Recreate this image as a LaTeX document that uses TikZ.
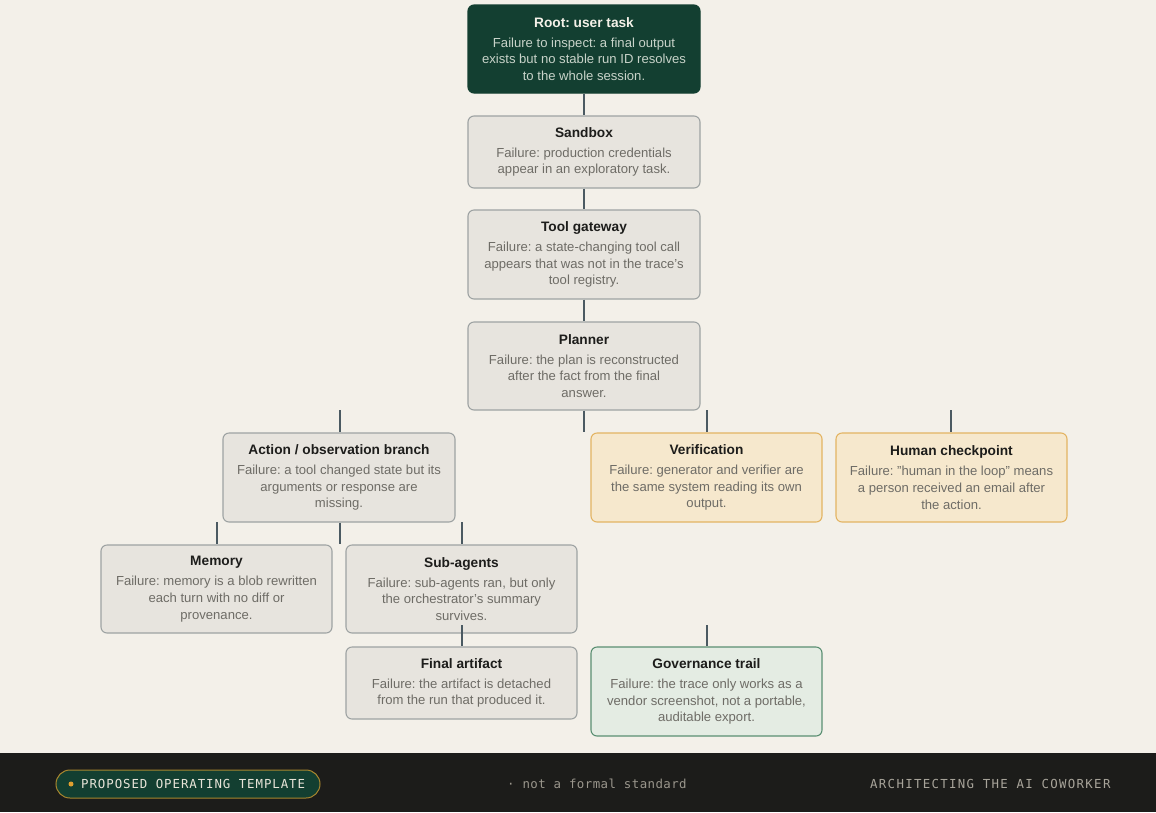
\documentclass[tikz,border=0pt]{standalone}
\usepackage{fontspec}
\setmainfont{Liberation Sans}
\newfontfamily\pillfont[LetterSpace=7.5]{DejaVu Sans Mono}
\newfontfamily\midfont[LetterSpace=3.5]{DejaVu Sans Mono}
\newfontfamily\rightfont[LetterSpace=10.5]{DejaVu Sans Mono}
\definecolor{bgc}{HTML}{F3F0E9}
\definecolor{grayfill}{HTML}{E7E4DE}
\definecolor{grayline}{HTML}{9EA3A3}
\definecolor{orfill}{HTML}{F6E8CD}
\definecolor{orline}{HTML}{E3B463}
\definecolor{grfill}{HTML}{E4ECE3}
\definecolor{grline}{HTML}{5A8F72}
\definecolor{rootfill}{HTML}{133F31}
\definecolor{roottitle}{HTML}{F4F1E8}
\definecolor{rootbody}{HTML}{C8D3C9}
\definecolor{titlecol}{HTML}{1D1D1B}
\definecolor{bodycol}{HTML}{6E6C66}
\definecolor{conn}{HTML}{4B5A62}
\definecolor{footc}{HTML}{1C1C1A}
\definecolor{pillline}{HTML}{A8862E}
\definecolor{dotc}{HTML}{E0A030}
\definecolor{pilltext}{HTML}{E8E4D8}
\definecolor{midtext}{HTML}{9A968C}
\definecolor{righttext}{HTML}{A8A49A}
\newcommand{\ttl}[1]{{\fontsize{13.7}{16.7}\selectfont\bfseries\color{titlecol}#1}}
\newcommand{\rttl}[1]{{\fontsize{13.7}{16.7}\selectfont\bfseries\color{roottitle}#1}}
\frenchspacing
\begin{document}
\begin{tikzpicture}[x=1pt,y=-1pt,
  card/.style={rounded corners=6pt, line width=1.1pt, align=center, inner sep=0pt,
    minimum width=232pt, font=\fontsize{13.1}{16.7}\selectfont\frenchspacing, text=bodycol,
    fill=grayfill, draw=grayline},
  orcard/.style={card, fill=orfill, draw=orline},
  grcard/.style={card, fill=grfill, draw=grline},
  rootcard/.style={card, fill=rootfill, draw=rootfill, text=rootbody},
  link/.style={draw=conn, line width=1.3pt}
]
\useasboundingbox (0,0) rectangle (1156,812);
\fill[bgc] (0,0) rectangle (1156,812);

% nodes
\node[rootcard, minimum height=88pt] (root) at (584,49)
  {\rttl{Root: user task}\\[3.3pt]Failure to inspect: a final output\\exists but no stable run ID resolves\\to the whole session.};
\node[card, minimum height=72pt] (sandbox) at (584,152)
  {\ttl{Sandbox}\\[3.3pt]Failure: production credentials\\appear in an exploratory task.};
\node[card, minimum height=89pt] (tool) at (584,254.5)
  {\ttl{Tool gateway}\\[3.3pt]Failure: a state-changing tool call\\appears that was not in the trace's\\tool registry.};
\node[card, minimum height=88pt] (planner) at (584,366)
  {\ttl{Planner}\\[3.3pt]Failure: the plan is reconstructed\\after the fact from the final\\answer.};
\node[card, minimum height=89pt] (action) at (339,477.5)
  {\ttl{Action / observation branch}\\[3.3pt]Failure: a tool changed state but its\\arguments or response are\\missing.};
\node[orcard, minimum height=89pt, minimum width=231pt] (verif) at (706.5,477.5)
  {\ttl{Verification}\\[3.3pt]Failure: generator and verifier are\\the same system reading its own\\output.};
\node[orcard, minimum height=89pt, minimum width=231pt] (human) at (951.5,477.5)
  {\ttl{Human checkpoint}\\[3.3pt]Failure: "human in the loop" means\\a person received an email after\\the action.};
\node[card, minimum height=88pt, minimum width=231pt] (memory) at (216.5,589)
  {\ttl{Memory}\\[3.3pt]Failure: memory is a blob rewritten\\each turn with no diff or\\provenance.};
\node[card, minimum height=88pt, minimum width=231pt] (subagents) at (461.5,589)
  {\ttl{Sub-agents}\\[3.3pt]Failure: sub-agents ran, but only\\the orchestrator's summary\\survives.};
\node[card, minimum height=72pt, minimum width=231pt] (final) at (461.5,683)
  {\ttl{Final artifact}\\[3.3pt]Failure: the artifact is detached\\from the run that produced it.};
\node[grcard, minimum height=89pt, minimum width=231pt] (gov) at (706.5,691.5)
  {\ttl{Governance trail}\\[3.3pt]Failure: the trace only works as a\\vendor screenshot, not a portable,\\auditable export.};

% free ends of stubs
\coordinate (plstub) at (584,432);
\coordinate (actop) at (340,410);
\coordinate (vertop) at (707,410);
\coordinate (humtop) at (951,410);
\coordinate (acbot) at (340,544);
\coordinate (memtop) at (217,522);
\coordinate (subtop) at (462,522);
\coordinate (subbot) at (462,625);
\coordinate (govtop) at (707,625);

% connectors
\draw[link] (root.south) -- (sandbox.north);
\draw[link] (sandbox.south) -- (tool.north);
\draw[link] (tool.south) -- (planner.north);
\draw[link] (planner.south) -- (plstub);
\draw[link] (actop) -- (actop |- action.north);
\draw[link] (vertop) -- (vertop |- verif.north);
\draw[link] (humtop) -- (humtop |- human.north);
\draw[link] (action.south -| acbot) -- (acbot);
\draw[link] (memtop) -- (memtop |- memory.north);
\draw[link] (subtop) -- (subtop |- subagents.north);
\draw[link] (subbot) -- (subbot |- final.north);
\draw[link] (govtop) -- (govtop |- gov.north);

% footer
\fill[footc] (0,753) rectangle (1156,812);
\node[rounded corners=14pt, minimum width=264pt, minimum height=28pt, inner sep=0pt,
  fill=rootfill, draw=pillline, line width=1pt] (pill) at (188,784) {};
\node[circle, fill=dotc, minimum size=5pt, inner sep=0pt] (dot) at (71,784) {};
\node[anchor=west, inner sep=0pt, text=pilltext, font=\pillfont\fontsize{12.4}{14}\selectfont] (pilltxt) at (81,784) {PROPOSED OPERATING TEMPLATE};
\node[anchor=west, inner sep=0pt, text=midtext, font=\midfont\fontsize{12.4}{14}\selectfont] (midtxt) at (507,784) {· not a formal standard};
\node[anchor=west, inner sep=0pt, text=righttext, font=\rightfont\fontsize{12.4}{14}\selectfont] (righttxt) at (870,784) {ARCHITECTING THE AI COWORKER};
\end{tikzpicture}
\end{document}
